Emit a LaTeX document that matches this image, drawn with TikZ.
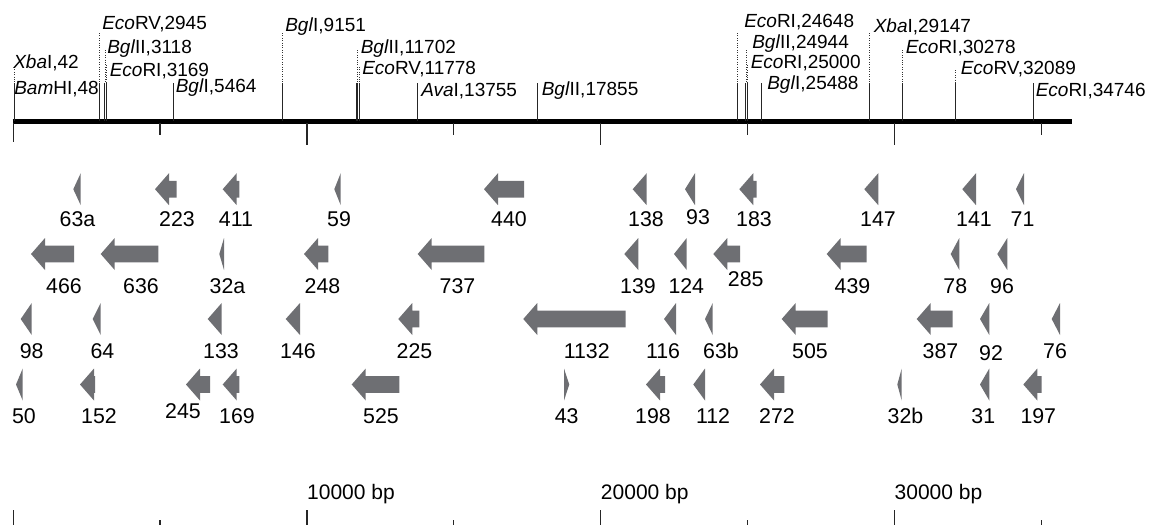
\documentclass[tikz,border=0pt]{standalone}
\usepackage{fontspec}
\setmainfont{Liberation Sans}
\definecolor{genegray}{RGB}{110,111,115}
\newcommand\genel[4]{% name, tip x, end x, centre y (left-pointing)
  \pgfmathsetmacro\gLen{#3-#2}%
  \pgfmathsetmacro\gHx{#2+14}%
  \ifdim\gLen pt<14.5pt
    \fill[gene] (#2,#4) -- (#3,#4-16) -- (#3,#4+16) -- cycle;
  \else
    \fill[gene] (#2,#4) -- (\gHx,#4-16) -- (\gHx,#4-8.3) -- (#3,#4-8.3) -- (#3,#4+8.3) -- (\gHx,#4+8.3) -- (\gHx,#4+16) -- cycle;
  \fi
  \coordinate (g#1) at (#2,#4);}
\begin{document}
\begin{tikzpicture}[x=0.75pt,y=-0.75pt,
  gene/.style={fill=genegray},
  siteline/.style={line width=0.8pt,black!85},
  dotline/.style={line width=0.6pt,black!80,dash pattern=on 0.6pt off 1.2pt},
  toplab/.style={anchor=base west,inner sep=0pt,font=\fontsize{14.25}{16}\selectfont},
  numlab/.style={anchor=base,inner sep=0pt,font=\fontsize{16}{18}\selectfont},
  scalelab/.style={anchor=base west,inner sep=0pt,font=\fontsize{15.75}{18}\selectfont},
  tick/.style={line width=1pt,black!85}]
\useasboundingbox (0,0) rectangle (1149,525);

% ---- main map line ----
\coordinate (mapL) at (12.7,121.7);
\coordinate (mapR) at (1071.7,121.7);
\draw[line width=3.4pt] (mapL) -- (mapR);

% ticks under map
\foreach \tx/\tl in {13.3/142,306.9/145,600.7/145,894.4/145}
  \draw[tick] (\tx,123) -- (\tx,\tl);
\foreach \tx in {160.1,453.8,747.6,1041.3}
  \draw[tick] (\tx,123) -- (\tx,134.5);

% ---- restriction sites ----
% solid parts
\foreach \sx in {14.6,99.8,104.9,106.4,173.8,282.1,357.0,359.2,417.3,537.7,737.2,745.9,747.6,761.9,869.4,902.6,955.8,1033.8}
  \draw[siteline] (\sx,83) -- (\sx,121);
% dotted parts
\foreach \sx/\st in {14.6/67,99.8/33,104.9/50,106.4/65,282.1/33,357.0/50,359.2/67,737.2/33,745.9/50,747.6/65,869.4/33,902.6/50,955.8/70}
  \draw[dotline] (\sx,\st) -- (\sx,83);

% site labels
\node[toplab] (sXba42) at (13,68.3) {\textit{Xba}I,42};
\node[toplab] (sBam48) at (14,94.5) {\textit{Bam}HI,48};
\node[toplab] (sEcoRV2945) at (102,29.3) {\textit{Eco}RV,2945};
\node[toplab] (sBglII3118) at (107,53) {\textit{Bgl}II,3118};
\node[toplab] (sEcoRI3169) at (109.5,76) {\textit{Eco}RI,3169};
\node[toplab] (sBglI5464) at (175.5,92.5) {\textit{Bgl}I,5464};
\node[toplab] (sBglI9151) at (285,31.7) {\textit{Bgl}I,9151};
\node[toplab] (sBglII11702) at (360.5,53) {\textit{Bgl}II,11702};
\node[toplab] (sEcoRV11778) at (362,74) {\textit{Eco}RV,11778};
\node[toplab] (sAva13755) at (421,96.5) {\textit{Ava}I,13755};
\node[toplab] (sBglII17855) at (541.5,95) {\textit{Bgl}II,17855};
\node[toplab] (sEcoRI24648) at (744,27.7) {\textit{Eco}RI,24648};
\node[toplab] (sBglII24944) at (752,48.3) {\textit{Bgl}II,24944};
\node[toplab] (sEcoRI25000) at (750.5,68.3) {\textit{Eco}RI,25000};
\node[toplab] (sBglI25488) at (767,89.3) {\textit{Bgl}I,25488};
\node[toplab] (sXba29147) at (873.5,32.7) {\textit{Xba}I,29147};
\node[toplab] (sEcoRI30278) at (905.5,53.3) {\textit{Eco}RI,30278};
\node[toplab] (sEcoRV32089) at (960.5,74) {\textit{Eco}RV,32089};
\node[toplab] (sEcoRI34746) at (1035.5,96.7) {\textit{Eco}RI,34746};

% ---- genes ----
% row 1
\genel{63a}{73.3}{80.7}{189.2}
\genel{223}{155}{176.7}{189.2}
\genel{411}{222.7}{239.3}{189.2}
\genel{59}{334.3}{340.7}{189.2}
\genel{440}{484}{524}{189.2}
\genel{138}{632.7}{646.7}{189.2}
\genel{93}{685}{695}{189.2}
\genel{183}{739.3}{756.7}{189.2}
\genel{147}{864.3}{878.3}{189.2}
\genel{141}{962.3}{976}{189.2}
\genel{71}{1016}{1024}{189.2}
% row 2
\genel{466}{31}{74}{254}
\genel{636}{100.7}{158.3}{254}
\genel{32a}{219.3}{224}{254}
\genel{248}{304}{328.3}{254}
\genel{737}{417.7}{484.3}{254}
\genel{139}{624.3}{638.3}{254}
\genel{124}{674}{686.7}{254}
\genel{285}{713.3}{740}{254}
\genel{439}{826.7}{866.7}{254}
\genel{78}{950.7}{959.3}{254}
\genel{96}{997.3}{1007.3}{254}
% row 3
\genel{98}{20.7}{31.7}{319}
\genel{64}{92.7}{100.7}{319}
\genel{133}{207.7}{221.7}{319}
\genel{146}{285.7}{300}{319}
\genel{225}{398.3}{419.3}{319}
\genel{1132}{523.3}{625.7}{319}
\genel{116}{664}{676}{319}
\genel{63b}{705}{712.7}{319}
\genel{505}{781.7}{827.7}{319}
\genel{387}{916.7}{952.7}{319}
\genel{92}{980}{989.3}{319}
\genel{76}{1051.7}{1060}{319}
% row 4
\genel{50}{16}{22.7}{384.5}
\genel{152}{80}{95}{384.5}
\genel{245}{186}{210}{384.5}
\genel{169}{222.7}{239.3}{384.5}
\genel{525}{351.7}{399.3}{384.5}
\fill[gene] (564,368.5) -- (569.3,384.5) -- (564,400.5) -- cycle; % 43, right-pointing
\coordinate (g43) at (569.3,384.5);
\genel{198}{646}{665}{384.5}
\genel{112}{693.3}{705}{384.5}
\genel{272}{760}{784.3}{384.5}
\genel{32b}{897.3}{901.7}{384.5}
\genel{31}{980}{989.3}{384.5}
\genel{197}{1023.3}{1041.7}{384.5}

% gene labels
\foreach \n/\lx/\ly in {63a/77.5/226.7,223/177/226.7,411/236/226.7,59/339/226.7,440/509/226.7,138/646/226.7,93/698/224.3,183/754/226.7,147/878/226.7,141/974/226.7,71/1022.5/226.7,
  466/64/293.3,636/141/293.3,32a/227.5/293.3,248/322.5/293.3,737/457.5/293.3,139/638/293.3,124/686.3/293.3,285/745.7/286.7,439/852.5/293.3,78/955.3/293.3,96/1002/293.3,
  98/31.7/358.3,64/102.5/358.3,133/221/358.3,146/298/358.3,225/414.5/358.3,1132/586.7/358.3,116/663/358.3,63b/721/358.3,505/810/358.3,387/940.5/358.3,92/991/360,76/1055/358.3,
  50/24/423.3,152/99/423.3,245/183/418.3,169/237/423.3,525/381/423.3,43/566.7/423.3,198/653/423.3,112/713/423.3,272/777/423.3,32b/905.5/423.3,31/983.3/423.3,197/1038.3/423.3}
  \node[numlab] (l\n) at (\lx,\ly) {\n};

% ---- bottom scale ----
\node[scalelab] (b10k) at (306.9,499.3) {10000 bp};
\node[scalelab] (b20k) at (600.7,499.3) {20000 bp};
\node[scalelab] (b30k) at (894.4,499.3) {30000 bp};
\foreach \tx in {13.3,306.9,600.7,894.4}
  \draw[tick] (\tx,510) -- (\tx,525);
\foreach \tx in {160.1,453.8,747.6,1041.3}
  \draw[tick] (\tx,520) -- (\tx,525);
\end{tikzpicture}
\end{document}
